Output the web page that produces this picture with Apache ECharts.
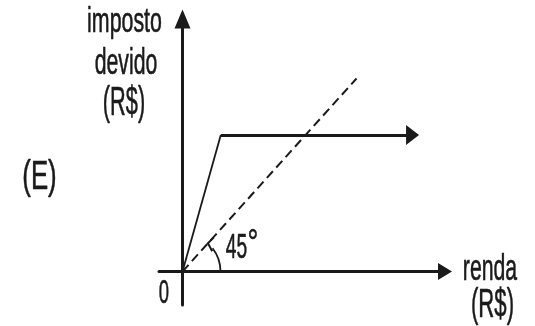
<!DOCTYPE html>
<html>
<head>
<meta charset="utf-8">
<script src="https://cdn.jsdelivr.net/npm/echarts@6/dist/echarts.min.js"></script>
<style>
html,body{margin:0;padding:0;background:#fff;}
#c{width:535px;height:326px;}
</style>
</head>
<body>
<div id="c"></div>
<script>
// ---- data ----
const X_MIN = -1.3506, X_MAX = 15.086;
const Y_MIN = -1.7358, Y_MAX = 13.083;
const dashedLine = [[0, 0], [10, 10]];        // 45 degree reference line
const slopeLine = [[0, 0], [2.2, 7.07]];      // rising part of tax
const capLine = [[2.2, 7.07], [13.22, 7.07]]; // flat part of tax
const yTitle = ['imposto', 'devido', '(R$)'];
const xTitle = ['renda', '(R$)'];
const panelLabel = '(E)';
const originLabel = '0';
const angleText = '45';
const angleMark = '°';

const INK = '#1a1a1a';
const FONT = '"Liberation Sans", Arial, sans-serif';

const chart = echarts.init(document.getElementById('c'), null, {renderer: 'canvas'});

function txt(text, x, y, size, sx) {
  return {
    type: 'text', x: x, y: y, scaleX: sx, scaleY: 1, silent: true,
    style: {text: text, fill: INK, stroke: INK, lineWidth: 0.6, font: size + 'px ' + FONT, align: 'center', verticalAlign: 'middle'}
  };
}

const option = {
  animation: false,
  backgroundColor: '#fff',
  grid: {left: 159, top: 19, width: 286, height: 286, containLabel: false},
  xAxis: {
    type: 'value', min: X_MIN, max: X_MAX,
    axisLine: {show: true, onZero: true, symbol: ['none', 'triangle'], symbolSize: [17, 14],
      lineStyle: {color: INK, width: 3}},
    axisTick: {show: false}, axisLabel: {show: false}, splitLine: {show: false}
  },
  yAxis: {
    type: 'value', min: Y_MIN, max: Y_MAX,
    axisLine: {show: true, onZero: true, symbol: ['none', 'triangle'], symbolSize: [16, 19],
      lineStyle: {color: INK, width: 3}},
    axisTick: {show: false}, axisLabel: {show: false}, splitLine: {show: false}
  },
  series: [
    {
      type: 'line', data: dashedLine, symbol: 'none', silent: true,
      lineStyle: {color: INK, width: 2, type: [9, 5]}
    },
    {
      type: 'line', data: slopeLine, symbol: 'none', silent: true,
      lineStyle: {color: INK, width: 1.8}
    },
    {
      type: 'lines', coordinateSystem: 'cartesian2d', silent: true,
      data: [{coords: capLine}],
      symbol: ['none', 'triangle'], symbolSize: [1, [20, 13]],
      lineStyle: {color: INK, width: 2.8, opacity: 1, curveness: 0}
    },
    {
      type: 'custom', silent: true, data: [[0, 0, dashedLine[1][0], dashedLine[1][1]]],
      renderItem: function (params, api) {
        const o = api.coord([api.value(0), api.value(1)]);
        const d = api.coord([api.value(2), api.value(3)]);
        const a = Math.atan2(d[1] - o[1], d[0] - o[0]);
        const r = 38;
        const a2 = a + 0.18;
        const ex = o[0] + r * Math.cos(a), ey = o[1] + r * Math.sin(a);
        const up = -45 * Math.PI / 180, dn = 62 * Math.PI / 180;
        return {
          type: 'group',
          children: [
            {type: 'arc', shape: {cx: o[0], cy: o[1], r: r, startAngle: a2, endAngle: 0, clockwise: true},
             style: {stroke: INK, lineWidth: 1.8, fill: null}},
            {type: 'polyline', shape: {points: [[ex + 8 * Math.cos(up), ey + 8 * Math.sin(up)], [ex, ey], [ex + 9 * Math.cos(dn), ey + 9 * Math.sin(dn)]]},
             style: {stroke: INK, lineWidth: 2, fill: null}}
          ]
        };
      }
    }
  ],
  graphic: [
    txt(yTitle[0], 124.5, 22, 35, 0.61),
    txt(yTitle[1], 126, 64, 36, 0.59),
    txt(yTitle[2], 124, 104, 41, 0.53),
    txt(panelLabel, 39.5, 178, 41, 0.63),
    txt(originLabel, 164, 294, 33, 0.56),
    txt(xTitle[0], 490, 270, 36, 0.59),
    txt(xTitle[1], 492.5, 306, 41, 0.54),
    txt(angleText, 236.5, 248.5, 35, 0.55),
    txt(angleMark, 253, 245, 36, 0.75)
  ]
};
chart.setOption(option);
</script>
</body>
</html>
